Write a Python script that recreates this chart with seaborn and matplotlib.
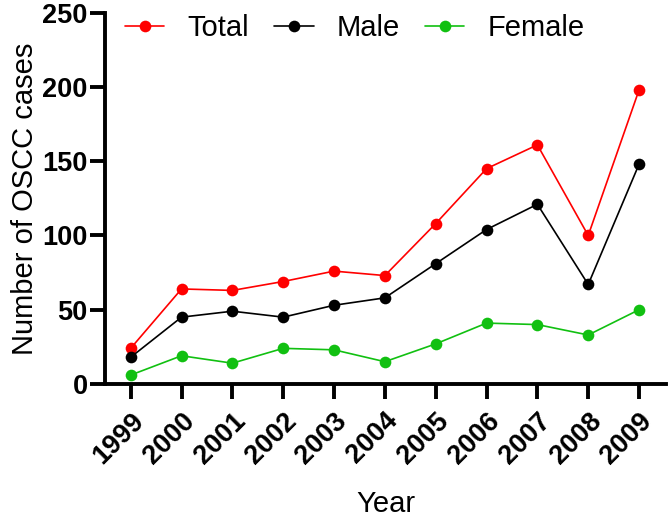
import pandas as pd
import seaborn as sns
import matplotlib as mpl
mpl.use("Agg")
import matplotlib.pyplot as plt


years = ["1999", "2000", "2001", "2002", "2003", "2004", "2005", "2006", "2007", "2008", "2009"]
total = [24, 64, 63, 69, 76, 73, 108, 145, 161, 100, 198]
male = [18, 45, 49, 45, 53, 58, 81, 104, 121, 67, 148]
female = [6, 19, 14, 24, 23, 15, 27, 41, 40, 33, 50]

series_names = ["Total", "Male", "Female"]
colors = {"Total": "#FF0000", "Male": "#000000", "Female": "#11C011"}

df = pd.DataFrame({
    "Year": years * 3,
    "Cases": total + male + female,
    "Group": ["Total"] * len(years) + ["Male"] * len(years) + ["Female"] * len(years),
})

sns.set_theme(style="ticks")
plt.rcParams["font.family"] = ["Liberation Sans", "DejaVu Sans"]
plt.rcParams["text.color"] = "black"
plt.rcParams["axes.labelcolor"] = "black"
plt.rcParams["xtick.color"] = "black"
plt.rcParams["ytick.color"] = "black"

fig = plt.figure(figsize=(6.68, 5.21), dpi=100)
ax = fig.add_axes([0.1572, 0.263, 0.8398, 0.7126])

sns.lineplot(data=df, x="Year", y="Cases", hue="Group", hue_order=series_names,
             palette=colors, marker="o", markersize=8.4, markeredgewidth=0,
             linewidth=1.2, ax=ax, legend=False)

ax.set_xlim(-0.505, 10.53)
ax.set_ylim(0, 250)
ax.set_yticks([0, 50, 100, 150, 200, 250])

for s in ["top", "right"]:
    ax.spines[s].set_visible(False)
for s in ["left", "bottom"]:
    ax.spines[s].set_linewidth(2.8)
    ax.spines[s].set_color("black")

ax.tick_params(axis="both", length=11, width=2.8, labelsize=19.5)
ax.tick_params(axis="y", pad=1.5)
ax.tick_params(axis="x", pad=6)
for lbl in ax.get_yticklabels():
    lbl.set_fontweight("bold")
for lbl in ax.get_xticklabels():
    lbl.set_fontweight("bold")
    lbl.set_rotation(45)
    lbl.set_ha("right")
    lbl.set_rotation_mode("anchor")

ax.set_xlabel("Year", fontsize=21, labelpad=15)
ax.set_ylabel("Number of OSCC cases", fontsize=21, labelpad=2)

handles = [plt.Line2D([], [], color=colors[n], marker="o", markersize=8.4,
                      markeredgewidth=0, linewidth=1.2) for n in series_names]
ax.legend(handles, series_names, loc="center left", bbox_to_anchor=(0.0357, 0.959),
          ncol=3, frameon=False, fontsize=21, borderpad=0, borderaxespad=0,
          handlelength=1.35, handletextpad=0.8, columnspacing=0.85)

fig.savefig("out.png", dpi=100)
